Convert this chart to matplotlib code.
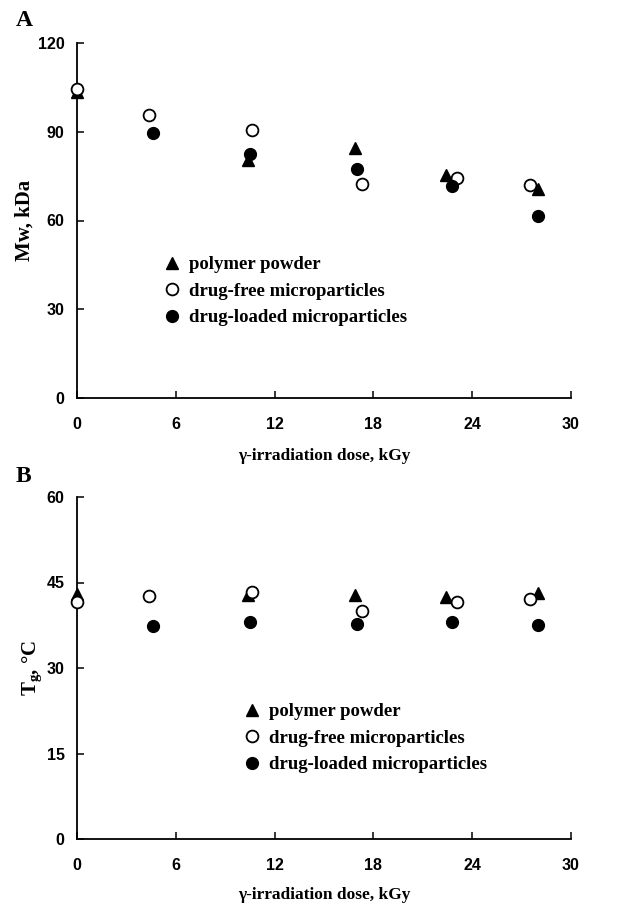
import matplotlib
matplotlib.use("Agg")
import matplotlib.pyplot as plt
from matplotlib.lines import Line2D

plt.rcParams['mathtext.fontset'] = 'custom'
plt.rcParams['mathtext.rm'] = 'Liberation Serif:bold'
plt.rcParams['mathtext.bf'] = 'Liberation Serif:bold'
plt.rcParams['mathtext.it'] = 'Liberation Serif:bold'
plt.rcParams['mathtext.default'] = 'bf'

# Irradiation dose (kGy) for each preparation
dose_powder = [0.0, 10.4, 16.9, 22.4, 28.0]
dose_free = [0.0, 4.4, 10.6, 17.3, 23.1, 27.5]
dose_loaded = [4.6, 10.5, 17.0, 22.8, 28.0]

# Molecular weight Mw (kDa)
mw_powder = [103.5, 80.5, 84.5, 75.5, 70.5]
mw_free = [104.5, 95.5, 90.5, 72.5, 74.5, 72.0]
mw_loaded = [89.5, 82.5, 77.5, 71.5, 61.5]

# Glass transition temperature Tg (°C)
tg_powder = [43.0, 42.8, 42.8, 42.5, 43.2]
tg_free = [41.5, 42.7, 43.4, 40.0, 41.5, 42.1]
tg_loaded = [37.4, 38.1, 37.7, 38.1, 37.5]

labels = ["polymer powder", "drug-free microparticles", "drug-loaded microparticles"]
x_ticks = [0, 6, 12, 18, 24, 30]
mw_ticks = [0, 30, 60, 90, 120]
tg_ticks = [0, 15, 30, 45, 60]

W, H = 642, 909
fig = plt.figure(figsize=(W / 100, H / 100), dpi=100)

serif = dict(family="Liberation Serif", weight="bold")
sans = dict(family="Liberation Sans", weight="bold")
MS = 8.5


def panel(rect, pw, fr, ld, yticks, ylabel, letter, letter_y, leg_xy, xlabelpad):
    ax = fig.add_axes(rect)
    kw = dict(linestyle="none", clip_on=False, zorder=3)
    ax.plot(dose_powder, pw, marker="^", color="black", markersize=MS, **kw)
    ax.plot(dose_free, fr, marker="o", markerfacecolor="white", markeredgecolor="black",
            markeredgewidth=1.3, markersize=MS, **kw)
    ax.plot(dose_loaded, ld, marker="o", color="black", markersize=MS, **kw)
    ax.set_xlim(0, 30)
    ax.set_ylim(yticks[0], yticks[-1])
    ax.set_xticks(x_ticks)
    ax.set_yticks(yticks)
    ax.set_xticklabels([str(t) for t in x_ticks], fontsize=11.5, **sans)
    ax.set_yticklabels([str(t) for t in yticks], fontsize=11.5, **sans)
    for s in ("top", "right"):
        ax.spines[s].set_visible(False)
    for s in ("left", "bottom"):
        ax.spines[s].set_linewidth(1.3)
    ax.tick_params(direction="in", length=5, width=1.1)
    ax.tick_params(axis="x", pad=14)
    ax.tick_params(axis="y", pad=9)
    ax.set_xlabel("γ-irradiation dose, kGy", fontsize=12.5, labelpad=xlabelpad, **serif)
    ax.set_ylabel(ylabel, fontsize=15, labelpad=2, **serif)
    fig.text(16 / W, 1 - letter_y / H, letter, fontsize=17, va="center", **serif)
    handles = [
        Line2D([], [], linestyle="none", marker="^", color="black", markersize=MS),
        Line2D([], [], linestyle="none", marker="o", markerfacecolor="white",
               markeredgecolor="black", markeredgewidth=1.3, markersize=MS),
        Line2D([], [], linestyle="none", marker="o", color="black", markersize=MS),
    ]
    fig.legend(handles, labels, loc="upper left", bbox_to_anchor=leg_xy, frameon=False,
               prop=dict(size=13.5, **serif), handlelength=0.9, handletextpad=0.45,
               labelspacing=0.5, borderpad=0, borderaxespad=0)
    return ax


panel([77 / W, 1 - 398 / H, (571 - 77) / W, (398 - 43) / H], mw_powder, mw_free, mw_loaded,
      mw_ticks, "Mw, kDa", "A", 20, (164 / W, 1 - 256 / H), 11.5)
panel([77 / W, 1 - 839 / H, (571 - 77) / W, (839 - 497) / H], tg_powder, tg_free, tg_loaded,
      tg_ticks, "T$_{g}$, °C", "B", 477, (244 / W, 1 - 703 / H), 9.5)

fig.savefig("out.png", dpi=100)
